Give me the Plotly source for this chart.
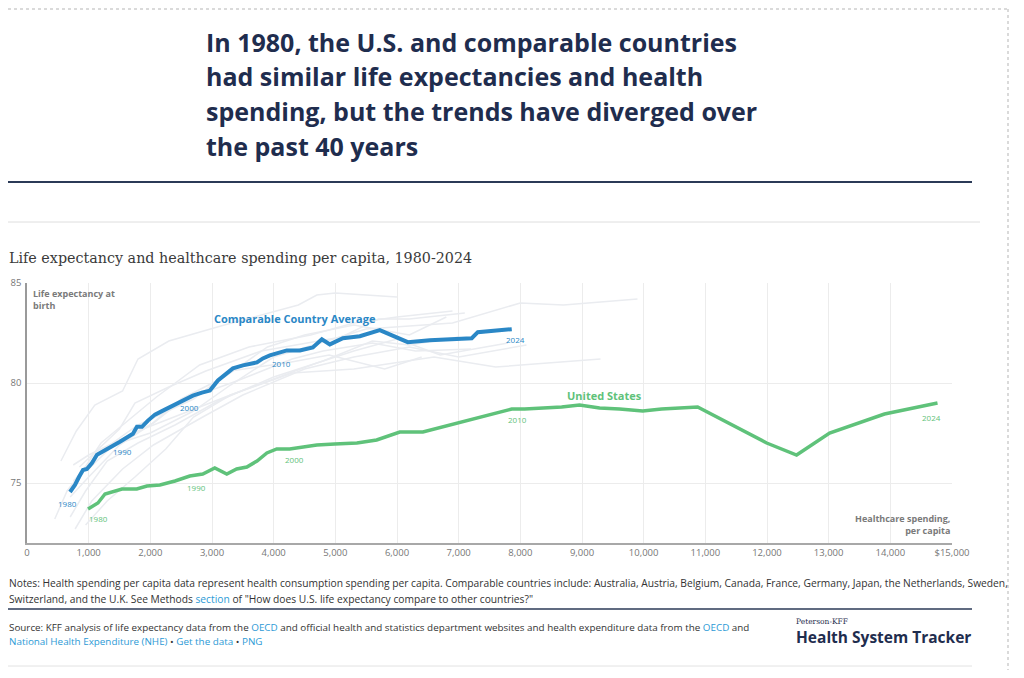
import plotly.graph_objects as go

# --- data ---
years = list(range(1980, 2025))

us_spend = [990, 1150, 1265, 1390, 1540, 1670, 1780, 1945, 2155, 2400,
            2640, 2850, 3045, 3240, 3400, 3565, 3730, 3890, 4050, 4260,
            4475, 4700, 4990, 5350, 5670, 6045, 6420, 6805, 7180, 7505,
            7860, 8070, 8395, 8670, 8960, 9285, 9610, 9985, 10290, 10875,
            11995, 12480, 13015, 13905, 14765]
us_life = [73.7, 74.0, 74.45, 74.55, 74.7, 74.7, 74.7, 74.85, 74.9, 75.1,
           75.35, 75.45, 75.75, 75.45, 75.7, 75.8, 76.1, 76.5, 76.7, 76.7,
           76.8, 76.9, 76.95, 77.0, 77.15, 77.55, 77.55, 77.85, 78.15, 78.4,
           78.7, 78.7, 78.75, 78.8, 78.9, 78.75, 78.7, 78.6, 78.7, 78.8,
           77.0, 76.4, 77.5, 78.45, 79.0]

cca_spend = [697, 778, 843, 908, 972, 1053, 1135, 1232, 1313, 1394,
             1507, 1621, 1718, 1783, 1864, 1961, 2075, 2204, 2366, 2512,
             2690, 2836, 2966, 3096, 3225, 3339, 3501, 3614, 3728, 3825,
             3938, 4214, 4425, 4635, 4781, 4911, 5122, 5397, 5559, 5721,
             6175, 6532, 7212, 7310, 7861]
cca_life = [74.55, 74.9, 75.3, 75.65, 75.7, 76.0, 76.41, 76.56, 76.71, 76.86,
            77.06, 77.26, 77.46, 77.81, 77.81, 78.12, 78.42, 78.62, 78.87, 79.12,
            79.37, 79.52, 79.62, 80.13, 80.43, 80.73, 80.88, 80.98, 81.03, 81.23,
            81.38, 81.63, 81.63, 81.78, 82.19, 81.93, 82.24, 82.34, 82.49, 82.64,
            82.04, 82.14, 82.24, 82.54, 82.69]

# individual comparable countries (background lines), years below
country_years = [1980, 1985, 1990, 1995, 2000, 2005, 2010, 2015, 2019, 2021, 2024]
countries = ["Australia", "Austria", "Belgium", "Canada", "France", "Germany",
             "Japan", "Netherlands", "Sweden", "Switzerland", "U.K."]
country_spend = [
    [650, 900, 1200, 1550, 2100, 2800, 3600, 4600, 5300, 6000, 6900],
    [780, 1050, 1550, 2050, 2850, 3500, 4500, 5300, 6200, 7000, 8100],
    [700, 950, 1300, 1800, 2400, 3100, 4000, 4800, 5600, 6200, 7000],
    [750, 1150, 1700, 2050, 2500, 3400, 4300, 4800, 5600, 6300, 7200],
    [700, 1000, 1500, 2000, 2500, 3200, 3900, 4500, 5300, 6200, 6800],
    [950, 1300, 1750, 2250, 2700, 3300, 4300, 5300, 6600, 7600, 9300],
    [550, 800, 1100, 1550, 1800, 2300, 3200, 4400, 4700, 5000, 6000],
    [750, 1000, 1400, 1800, 2300, 3300, 4700, 5300, 6000, 6700, 7800],
    [850, 1150, 1500, 1750, 2300, 2900, 3800, 5100, 5700, 6200, 7100],
    [1000, 1400, 2000, 2700, 3300, 4000, 5500, 6900, 8000, 8700, 9900],
    [450, 650, 950, 1250, 1800, 2700, 3300, 4200, 4900, 5800, 6400],
]
country_life = [
    [74.6, 75.6, 77.0, 77.9, 79.3, 80.9, 81.8, 82.4, 83.0, 83.3, 83.6],
    [72.7, 74.1, 75.7, 76.9, 78.3, 79.4, 80.7, 81.3, 81.8, 81.3, 81.9],
    [73.3, 74.6, 76.1, 77.0, 77.9, 79.1, 80.3, 81.1, 82.1, 81.9, 82.3],
    [75.1, 76.4, 77.4, 78.0, 79.1, 80.1, 81.2, 81.6, 82.0, 81.6, 81.7],
    [74.3, 75.3, 76.9, 77.9, 79.2, 80.3, 81.8, 82.4, 82.9, 82.4, 83.3],
    [72.9, 74.1, 75.3, 76.7, 78.3, 79.4, 80.5, 80.7, 81.3, 80.8, 81.2],
    [76.1, 77.6, 78.9, 79.6, 81.2, 82.1, 82.9, 83.9, 84.4, 84.5, 84.3],
    [75.9, 76.4, 77.0, 77.6, 78.2, 79.4, 81.0, 81.6, 82.2, 81.4, 82.0],
    [75.8, 76.7, 77.7, 79.0, 79.8, 80.6, 81.6, 82.3, 83.2, 83.2, 83.5],
    [75.7, 76.9, 77.5, 78.6, 79.9, 81.3, 82.7, 83.0, 84.0, 83.9, 84.2],
    [73.2, 74.6, 75.7, 76.7, 77.9, 79.2, 80.6, 81.0, 81.4, 80.7, 81.3],
]

x_ticks = list(range(0, 15001, 1000))
x_ticktext = [f"{v:,}" for v in x_ticks[:-1]] + ["$15,000"]
y_ticks = [75, 80, 85]

label_years = [1980, 1990, 2000, 2010, 2024]

BLUE = "#2a87c6"
GREEN = "#5fc27a"
NAVY = "#1f2d4e"
GREY_TXT = "#7a7a7a"
LINK = "#2c9ad6"

# the page body has an 8px margin, so lay out in page pixels minus that
OFF = 8
W, H = 1024 - 2 * OFF, 678 - 2 * OFF
# plot area in page pixels
L, R, T, B = 27, 952, 283, 543


def px(x, y):
    return (x - L) / (R - L), (B - y) / (B - T)


fig = go.Figure()

for name, xs, ys in zip(countries, country_spend, country_life):
    fig.add_trace(go.Scatter(x=xs, y=ys, mode="lines", name=name,
                             line=dict(color="#eaecf0", width=1.5),
                             showlegend=False, hoverinfo="name"))

fig.add_trace(go.Scatter(x=cca_spend, y=cca_life, mode="lines",
                         name="Comparable Country Average",
                         line=dict(color=BLUE, width=4), showlegend=False))
fig.add_trace(go.Scatter(x=us_spend, y=us_life, mode="lines",
                         name="United States",
                         line=dict(color=GREEN, width=3.5), showlegend=False))

annotations = []

# year labels along the lines
cca_shift = {1980: (-2, -11), 1990: (3, -10), 2000: (-3, -12), 2010: (12, -8), 2024: (4, -10)}
us_shift = {1980: (10, -9), 1990: (7, -11), 2000: (-8, -12), 2010: (6, -10), 2024: (-6, -14)}
for yr in label_years:
    i = years.index(yr)
    dx, dy = cca_shift[yr]
    annotations.append(dict(x=cca_spend[i], y=cca_life[i], text=str(yr), showarrow=False,
                            xshift=dx, yshift=dy, font=dict(size=8, color=BLUE,
                                                          family="Open Sans")))
    dx, dy = us_shift[yr]
    annotations.append(dict(x=us_spend[i], y=us_life[i], text=str(yr), showarrow=False,
                            xshift=dx, yshift=dy, font=dict(size=8, color=GREEN,
                                                          family="Open Sans")))


def note(x, y, text, size, color, family="Open Sans", xanchor="left", yanchor="middle",
         weight="normal", align="left"):
    ax, ay = px(x, y)
    annotations.append(dict(x=ax, y=ay, xref="paper", yref="paper", text=text,
                            showarrow=False, xanchor=xanchor, yanchor=yanchor, align=align,
                            borderpad=0,
                            font=dict(size=size, color=color, family=family, weight=weight)))


# series labels
note(295, 318, "Comparable Country Average", 11, BLUE, xanchor="center", weight="bold")
note(604, 395, "United States", 11, GREEN, xanchor="center", weight="bold")

# axis titles inside the plot
note(32, 286, "Life expectancy at<br>birth", 9, GREY_TXT, yanchor="top", weight="bold")
note(952, 538, "Healthcare spending,<br>per capita", 9, GREY_TXT, xanchor="right",
     yanchor="bottom", weight="bold", align="right")

# headline
title_lines = ["In 1980, the U.S. and comparable countries",
               "had similar life expectancies and health",
               "spending, but the trends have diverged over",
               "the past 40 years"]
for k, line in enumerate(title_lines):
    note(205, 42 + 34.5 * k, line, 25, NAVY, family="Open Sans", weight="bold")

note(8, 258, "Life expectancy and healthcare spending per capita, 1980-2024", 14.3,
     "#3a3a3a", family="DejaVu Serif")

# footer
note(8, 583, "Notes: Health spending per capita data represent health consumption spending "
             "per capita. Comparable countries include: Australia, Austria, Belgium, Canada, "
             "France, Germany, Japan, the Netherlands, Sweden,", 10.25, "#333333")
note(8, 599, "Switzerland, and the U.K. See Methods "
             f"<span style='color:{LINK}'>section</span> of \"How does U.S. life expectancy "
             "compare to other countries?\"", 10.25, "#333333")
note(8, 627, "Source: KFF analysis of life expectancy data from the "
             f"<span style='color:{LINK}'>OECD</span> and official health and statistics "
             "department websites and health expenditure data from the "
             f"<span style='color:{LINK}'>OECD</span> and", 9.85, "#333333")
note(8, 641, f"<span style='color:{LINK}'>National Health Expenditure (NHE)</span> • "
             f"<span style='color:{LINK}'>Get the data</span> • "
             f"<span style='color:{LINK}'>PNG</span>", 9.85, "#333333")
note(795, 621, "Peterson-KFF", 7.5, NAVY, family="DejaVu Serif")
note(795, 637, "Health System Tracker", 15.5, NAVY, family="Open Sans", weight="bold")

# rules and frame
shapes = []


def rule(x0, y0, x1, y1, color, width, dash="solid"):
    a0, b0 = px(x0, y0)
    a1, b1 = px(x1, y1)
    shapes.append(dict(type="line", xref="paper", yref="paper", x0=a0, y0=b0, x1=a1, y1=b1,
                       line=dict(color=color, width=width, dash=dash)))


rule(7, 182, 972, 182, "#2b3a57", 2)
rule(0, 222, 980, 222, "#dedede", 1)
rule(8, 609, 972, 609, "#2b3a57", 1.5)
rule(8, 666, 972, 666, "#e2e2e2", 1)
rule(8, 9, 1008, 9, "#b5b5b5", 1, "dot")
rule(1008, 9, 1008, 678, "#b5b5b5", 1, "dot")

fig.update_layout(
    width=W, height=H,
    margin=dict(l=L - OFF, r=W - (R - OFF), t=T - OFF, b=H - (B - OFF), autoexpand=False),
    paper_bgcolor="white", plot_bgcolor="white",
    font=dict(family="Open Sans", color="#777777"),
    annotations=annotations, shapes=shapes,
    xaxis=dict(range=[0, 15000], tickvals=x_ticks, ticktext=x_ticktext, automargin=False,
               showgrid=True, gridcolor="#ececec", gridwidth=1, zeroline=False,
               showline=True, linecolor="#a8a8a8", linewidth=2,
               tickfont=dict(size=9.5, color="#777777"), ticks=""),
    yaxis=dict(range=[72, 85], tickvals=y_ticks, showgrid=True, gridcolor="#ececec",
               automargin=False, zeroline=False, showline=True, linecolor="#9a9a9a",
               linewidth=1.5, tickfont=dict(size=9.5, color="#777777"), ticks="",
               ticklabelstandoff=2),
    hovermode="closest",
)

fig.write_html("out.html")
